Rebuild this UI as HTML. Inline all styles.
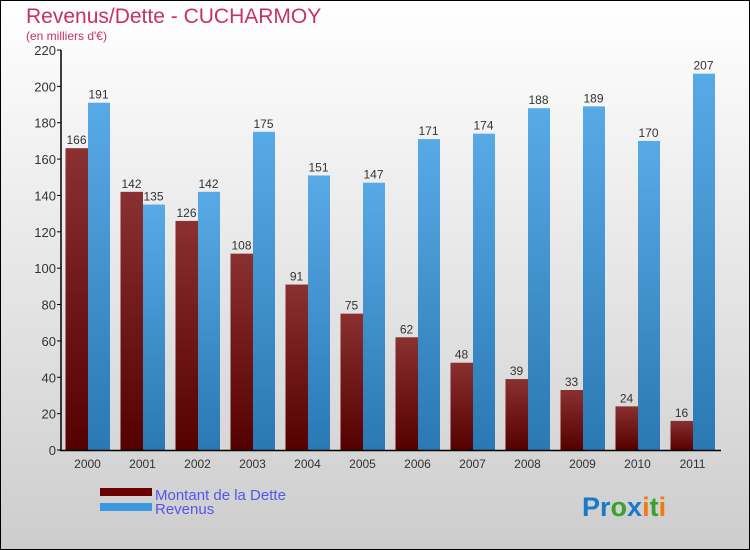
<!DOCTYPE html>
<html><head><meta charset="utf-8"><style>
body{margin:0}
#c{width:750px;height:550px;position:relative;box-sizing:border-box;border:1px solid #000;background:linear-gradient(#fff,#f0f0f0 30%,#cdcdcd);font-family:"Liberation Sans",sans-serif;overflow:hidden}
</style></head><body>
<div id="c">
<svg width="750" height="550" style="position:absolute;left:-1px;top:-1px">
<defs>
<linearGradient id="gd" x1="0" y1="0" x2="0" y2="1"><stop offset="0" stop-color="#8a3030"/><stop offset="1" stop-color="#550000"/></linearGradient>
<linearGradient id="gr" x1="0" y1="0" x2="0" y2="1"><stop offset="0" stop-color="#58aae6"/><stop offset="1" stop-color="#2a78b4"/></linearGradient>
</defs>
<text x="26" y="23" font-size="21" fill="#c8306a">Revenus/Dette - CUCHARMOY</text>
<text x="26" y="40" font-size="12" fill="#c8306a">(en milliers d'€)</text>
<g id="plot"></g>
<rect x="100" y="488" width="52" height="8" fill="#6b0000"/>
<rect x="100" y="503" width="52" height="8" fill="#3a98e0"/>
<text x="155" y="500" font-size="15" fill="#5555ee">Montant de la Dette</text>
<text x="155" y="514" font-size="15" fill="#5555ee">Revenus</text>
<text x="582" y="516" font-size="27" font-weight="bold"><tspan fill="#1a7ac8">Pr</tspan><tspan fill="#3aa030">o</tspan><tspan fill="#1a7ac8">x</tspan><tspan fill="#f07a10">i</tspan><tspan fill="#3aa030">t</tspan><tspan fill="#f07a10">i</tspan></text>
</svg>
</div>
<script>
const years=["2000","2001","2002","2003","2004","2005","2006","2007","2008","2009","2010","2011"];
const dette=[166,142,126,108,91,75,62,48,39,33,24,16];
const revenus=[191,135,142,175,151,147,171,174,188,189,170,207];
const ticks=[0,20,40,60,80,100,120,140,160,180,200,220];
const NS="http://www.w3.org/2000/svg";
const g=document.getElementById('plot');
const y0=450,ppu=400/220;
const yS=v=>y0-v*ppu;
const xS=i=>65.5+55*i;
function mk(t,a){const e=document.createElementNS(NS,t);for(const k in a)e.setAttribute(k,a[k]);g.appendChild(e);return e;}
ticks.forEach(t=>{
 const l=mk('line',{x1:57,x2:61,y1:yS(t),y2:yS(t),stroke:'#000'});
 
 
 const tx=mk('text',{x:56,y:yS(t)+5,'text-anchor':'end','font-size':13,fill:'#333'});
 tx.textContent=t;
 
 
});
years.forEach((yr,i)=>{
 const x=xS(i);
 const b1=mk('rect',{x:x,y:yS(dette[i]),width:22.5,height:dette[i]*ppu,fill:'url(#gd)'});
 
 
 const b2=mk('rect',{x:x+22.5,y:yS(revenus[i]),width:22,height:revenus[i]*ppu,fill:'url(#gr)'});
 
 
 const v1=mk('text',{x:x+11,y:yS(dette[i])-4,'text-anchor':'middle','font-size':12,fill:'#333'});
 v1.textContent=dette[i];
 
 
 const v2=mk('text',{x:x+33,y:yS(revenus[i])-4,'text-anchor':'middle','font-size':12,fill:'#333'});
 v2.textContent=revenus[i];
 
 
 const xl=mk('text',{x:x+22,y:468,'text-anchor':'middle','font-size':12,fill:'#333'});
 xl.textContent=yr;
 
 
});
const ya=mk('line',{x1:61,x2:61,y1:50,y2:451,stroke:'#000','stroke-width':1.5});


const xa=mk('line',{x1:60,x2:721,y1:450.5,y2:450.5,stroke:'#000','stroke-width':1.5});


</script>
</body></html>
